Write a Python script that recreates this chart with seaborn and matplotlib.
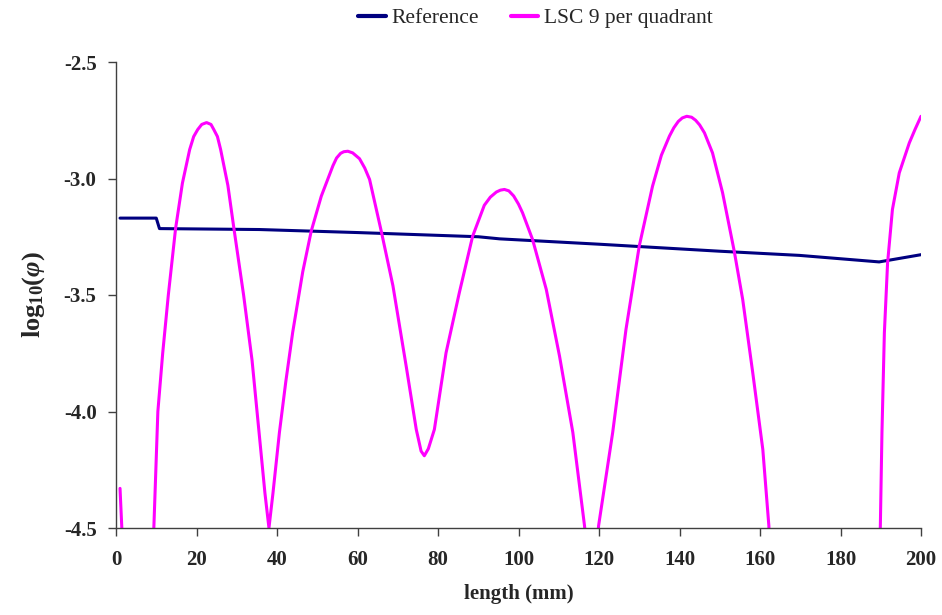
import numpy as np
import pandas as pd
import matplotlib
matplotlib.use("Agg")
import matplotlib.pyplot as plt
import seaborn as sns
from matplotlib.ticker import FormatStrFormatter

# ---- data ----
ref_x = [1.0, 10.0, 10.8, 35.6, 60.0, 90.0, 95.3, 120.0, 149.9, 169.8, 189.6, 200.0]
ref_y = [-3.17, -3.17, -3.215, -3.219, -3.232, -3.25, -3.259, -3.282, -3.312, -3.33, -3.358, -3.327]

lsc_x = [1.0, 1.5, 2.0, 9.0, 9.4, 10.4, 11.6, 13.0, 14.8, 16.5, 18.3, 19.3, 20.3, 21.3, 22.5,
         23.6, 24.3, 25.2, 26.0, 27.8, 29.3, 31.7, 33.8, 35.6, 37.0, 38.0, 39.0, 40.6, 42.2,
         43.9, 46.4, 48.5, 51.0, 53.9, 54.8, 55.8, 56.6, 57.6, 58.8, 60.5, 61.8, 63.0, 65.9,
         68.8, 72.1, 74.6, 75.8, 76.6, 77.6, 79.1, 82.0, 85.3, 88.6, 91.5, 93.0, 94.5, 95.5,
         96.5, 97.6, 98.8, 100.0, 101.0, 103.5, 106.9, 110.2, 113.5, 116.4, 117.0, 118.3,
         119.4, 119.9, 123.4, 126.7, 130.0, 133.3, 135.5, 137.5, 138.6, 139.7, 140.7, 141.8,
         143.0, 144.0, 145.0, 146.2, 148.2, 150.7, 153.6, 155.7, 158.2, 160.7, 162.2, 163.0,
         189.5, 189.9, 190.3, 190.9, 191.7, 192.9, 194.6, 197.1, 198.5, 200.0]
lsc_y = [-4.33, -4.52, -4.8, -4.8, -4.5, -4.0, -3.75, -3.5, -3.215, -3.02, -2.876, -2.82,
         -2.79, -2.768, -2.76, -2.768, -2.79, -2.82, -2.876, -3.03, -3.215, -3.5, -3.78, -4.1,
         -4.35, -4.5, -4.35, -4.09, -3.87, -3.66, -3.40, -3.226, -3.076, -2.945, -2.912,
         -2.892, -2.885, -2.883, -2.89, -2.915, -2.955, -3.004, -3.226, -3.46, -3.806, -4.077,
         -4.17, -4.19, -4.16, -4.077, -3.748, -3.49, -3.248, -3.115, -3.08, -3.058, -3.05,
         -3.047, -3.053, -3.075, -3.11, -3.147, -3.262, -3.476, -3.763, -4.09, -4.49, -4.6,
         -4.8, -4.6, -4.49, -4.09, -3.648, -3.29, -3.033, -2.9, -2.818, -2.782, -2.755,
         -2.74, -2.733, -2.737, -2.75, -2.77, -2.804, -2.89, -3.061, -3.312, -3.519, -3.834,
         -4.163, -4.49, -4.8, -4.8, -4.49, -4.09, -3.662, -3.362, -3.133, -2.976, -2.847,
         -2.79, -2.733]

series_names = ["Reference", "LSC 9 per quadrant"]
series_colors = ["#000080", "#FF00FF"]
x_ticks = [0, 20, 40, 60, 80, 100, 120, 140, 160, 180, 200]
y_ticks = [-4.5, -4.0, -3.5, -3.0, -2.5]

# ---- style ----
sns.set_style("ticks")
plt.rcParams["font.family"] = ["Liberation Serif", "DejaVu Serif"]
plt.rcParams["axes.unicode_minus"] = False
plt.rcParams["mathtext.fontset"] = "custom"
plt.rcParams["mathtext.rm"] = "Liberation Serif:bold"
plt.rcParams["mathtext.bf"] = "Liberation Serif:bold"
plt.rcParams["mathtext.it"] = "Liberation Serif:italic:bold"

fig = plt.figure(figsize=(9.42, 6.15), dpi=100)
ax = fig.add_axes([116 / 942, 1 - 528 / 615, (921 - 116) / 942, (528 - 62) / 615])

df_ref = pd.DataFrame({"x": ref_x, "y": ref_y})
df_lsc = pd.DataFrame({"x": lsc_x, "y": lsc_y})
sns.lineplot(data=df_ref, x="x", y="y", ax=ax, color=series_colors[0], lw=2.2,
             estimator=None, sort=False, label=series_names[0])
sns.lineplot(data=df_lsc, x="x", y="y", ax=ax, color=series_colors[1], lw=2.2,
             estimator=None, sort=False, label=series_names[1])

ax.set_xlim(0, 200)
ax.set_ylim(-4.5, -2.5)
ax.set_xticks(x_ticks)
ax.set_yticks(y_ticks)
ax.yaxis.set_major_formatter(FormatStrFormatter("%.1f"))
for s in ["top", "right"]:
    ax.spines[s].set_visible(False)
for s in ["left", "bottom"]:
    ax.spines[s].set_color("#404040")
    ax.spines[s].set_linewidth(1.0)
ax.tick_params(axis="both", direction="out", length=6, width=1.0, color="#404040",
               labelsize=15)
ax.tick_params(axis="x", pad=10)
ax.tick_params(axis="y", pad=8)
for lab in ax.get_xticklabels() + ax.get_yticklabels():
    lab.set_fontweight("bold")

ax.set_xlabel("length (mm)", fontsize=15, fontweight="bold", labelpad=10)
ax.set_ylabel(r"log$_{10}$($\varphi$)", fontsize=19, fontweight="bold", labelpad=12)

leg = ax.legend(loc="center", bbox_to_anchor=(0.5685, 0.97), bbox_transform=fig.transFigure,
                ncol=2, frameon=False, fontsize=15.5, handlelength=1.3, columnspacing=1.45,
                handletextpad=0.25)
for line in leg.get_lines():
    line.set_linewidth(3)

fig.savefig("out.png", dpi=100, facecolor="white")
